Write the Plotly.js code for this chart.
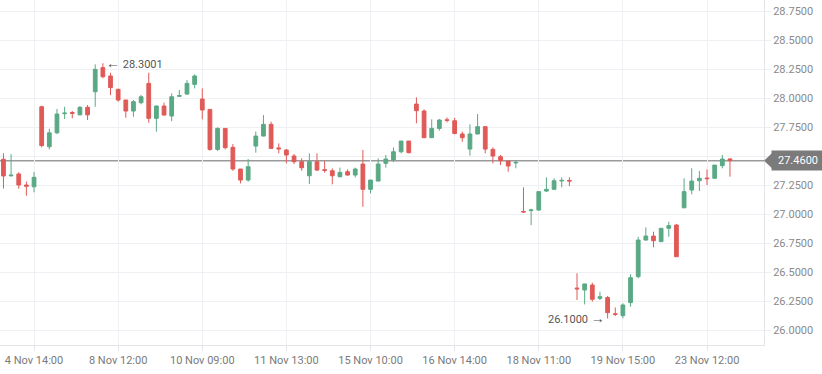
<!DOCTYPE html>
<html><head><meta charset="utf-8">
<script src="https://cdn.plot.ly/plotly-3.0.1.min.js"></script>
<style>html,body{margin:0;padding:0;background:#fff}#chart{width:822px;height:374px}</style>
</head><body><div id="chart"></div>
<script>
// OHLC series (one candle per slot)
const openV  = [27.472,27.330,27.345,27.250,27.235,27.925,27.580,27.700,27.865,27.875,27.855,27.920,28.054,28.262,28.190,28.075,27.983,27.888,27.960,28.126,27.825,27.931,27.845,28.015,28.034,28.118,27.991,27.902,27.557,27.738,27.575,27.388,27.293,27.586,27.672,27.773,27.570,27.552,27.500,27.451,27.330,27.451,27.382,27.373,27.322,27.365,27.336,27.431,27.213,27.284,27.437,27.466,27.537,27.629,27.948,27.888,27.658,27.738,27.812,27.804,27.690,27.560,27.690,27.753,27.557,27.494,27.457,27.440,27.022,27.030,27.034,27.198,27.213,27.285,27.290,26.362,26.345,26.388,26.273,26.280,26.140,26.124,26.236,26.460,26.776,26.810,26.762,26.877,26.905,27.054,27.207,27.287,27.310,27.308,27.417,27.475];
const highV  = [27.523,27.517,27.360,27.280,27.362,27.934,27.735,27.905,27.925,27.888,27.930,27.940,28.290,28.3001,28.218,28.080,27.983,27.983,28.026,28.218,27.935,27.960,28.040,28.070,28.155,28.204,28.083,27.902,27.747,27.738,27.603,27.388,27.474,27.710,27.853,27.796,27.609,27.560,27.517,27.480,27.523,27.523,27.457,27.394,27.400,27.385,27.400,27.552,27.293,27.480,27.509,27.575,27.629,27.629,28.006,27.902,27.816,27.820,27.833,27.830,27.710,27.773,27.862,27.753,27.575,27.509,27.457,27.466,27.230,27.045,27.193,27.316,27.308,27.316,27.316,26.489,26.400,26.408,26.330,26.293,26.195,26.230,26.480,26.804,26.885,26.848,26.877,26.934,26.915,27.308,27.394,27.371,27.385,27.422,27.509,27.480];
const lowV   = [27.220,27.322,27.218,27.158,27.187,27.575,27.557,27.690,27.819,27.825,27.850,27.810,27.925,28.170,28.025,27.968,27.830,27.839,27.946,27.787,27.710,27.850,27.800,28.012,28.030,28.083,27.816,27.545,27.543,27.557,27.373,27.264,27.279,27.529,27.670,27.563,27.523,27.437,27.431,27.373,27.259,27.370,27.356,27.256,27.315,27.330,27.316,27.063,27.178,27.284,27.400,27.448,27.523,27.523,27.782,27.655,27.655,27.718,27.790,27.687,27.623,27.503,27.688,27.523,27.437,27.422,27.365,27.394,27.010,26.905,27.030,27.190,27.210,27.230,27.241,26.259,26.221,26.244,26.259,26.100,26.120,26.101,26.201,26.446,26.770,26.713,26.760,26.804,26.630,27.050,27.170,27.198,27.250,27.305,27.394,27.322];
const closeV = [27.328,27.335,27.250,27.240,27.316,27.590,27.700,27.862,27.870,27.868,27.920,27.855,28.247,28.184,28.090,27.983,27.888,27.968,28.011,27.825,27.931,27.853,28.011,28.020,28.126,28.190,27.897,27.557,27.738,27.572,27.388,27.293,27.408,27.672,27.773,27.566,27.562,27.509,27.451,27.399,27.451,27.379,27.376,27.330,27.359,27.336,27.388,27.213,27.293,27.431,27.474,27.537,27.629,27.529,27.891,27.658,27.738,27.810,27.808,27.695,27.658,27.690,27.753,27.560,27.500,27.459,27.414,27.445,27.018,27.035,27.193,27.213,27.287,27.290,27.285,26.355,26.397,26.265,26.287,26.150,26.135,26.216,26.451,26.776,26.810,26.770,26.877,26.900,26.632,27.193,27.284,27.308,27.305,27.422,27.474,27.460];
const slotIdx = openV.map((_, i) => i);
// x tick labels and the slots they sit on
const tickSlots  = [4, 15, 26, 37, 48, 59, 70, 81, 92];
const tickLabels = ['4 Nov 14:00','8 Nov 12:00','10 Nov 09:00','11 Nov 13:00','15 Nov 10:00','16 Nov 14:00','18 Nov 11:00','19 Nov 15:00','23 Nov 12:00'];
const yTicks = [26.00,26.25,26.50,26.75,27.00,27.25,27.50,27.75,28.00,28.25,28.50,28.75];
const lastPrice = 27.46;
const maxHigh = 28.3001, minLow = 26.10;
const maxIdx = highV.indexOf(maxHigh), minIdx = lowV.indexOf(minLow);

const green = '#5aa985', red = '#e05a57';
const trace = {
  type: 'candlestick', x: slotIdx, open: openV, high: highV, low: lowV, close: closeV,
  increasing: {line: {color: green, width: 1}, fillcolor: green},
  decreasing: {line: {color: red, width: 1}, fillcolor: red},
  whiskerwidth: 0, hoverinfo: 'skip', showlegend: false
};
const fontF = 'Roboto, "Open Sans", sans-serif';
// the label of the tick hidden under the last-price box is left blank
const yTickText = yTicks.map(v => Math.abs(v - lastPrice) < 0.1 ? '' : v.toFixed(4));
const arrowL = '<span style="font-size:14px">\u2190</span> ';
const arrowR = ' <span style="font-size:14px">\u2192</span>';
const layout = {
  width: 822, height: 374,
  margin: {l: 0, r: 58, t: 0, b: 29},
  paper_bgcolor: '#fff', plot_bgcolor: '#fff',
  showlegend: false,
  xaxis: {
    range: [-0.45, 99.45], rangeslider: {visible: false},
    tickmode: 'array', tickvals: tickSlots, ticktext: tickLabels,
    showgrid: true, gridcolor: '#eef0f3', gridwidth: 1,
    showline: true, linecolor: '#e3e5e8', linewidth: 1,
    ticks: 'outside', ticklen: 5, tickcolor: '#e3e5e8',
    tickfont: {family: fontF, size: 11, color: '#7a7a7a'},
    zeroline: false, fixedrange: true
  },
  yaxis: {
    side: 'right', range: [25.871, 28.845],
    tickmode: 'array', tickvals: yTicks, ticktext: yTickText,
    showgrid: true, gridcolor: '#eef0f3', gridwidth: 1,
    showline: true, linecolor: '#e3e5e8', linewidth: 1,
    ticks: 'outside', ticklen: 6, tickcolor: '#eef0f3',
    tickfont: {family: fontF, size: 11, color: '#8a8a8a'},
    zeroline: false, fixedrange: true
  },
  shapes: [
    {type: 'line', xref: 'paper', x0: 0, x1: 1, yref: 'y', y0: lastPrice, y1: lastPrice,
     line: {color: '#9a9a9a', width: 1.5}, layer: 'below'},
    {type: 'path', xref: 'paper', yref: 'y', fillcolor: '#7b7b7b', line: {width: 0},
     path: 'M 1.0 ' + lastPrice + ' L 1.012 ' + (lastPrice + 0.075) + ' L 1.012 ' + (lastPrice - 0.075) + ' Z'}
  ],
  annotations: [
    {xref: 'paper', yref: 'y', x: 1.009, y: lastPrice, xanchor: 'left', yanchor: 'middle',
     text: lastPrice.toFixed(4), showarrow: false, bgcolor: '#7b7b7b', borderpad: 3,
     font: {family: fontF, size: 11, color: '#ffffff'}, width: 46, align: 'center'},
    {xref: 'x', yref: 'y', x: maxIdx, y: maxHigh, xanchor: 'left', yanchor: 'middle', xshift: 1,
     text: arrowL + maxHigh.toFixed(4), showarrow: false,
     font: {family: fontF, size: 11, color: '#555'}},
    {xref: 'x', yref: 'y', x: minIdx, y: minLow, xanchor: 'right', yanchor: 'middle', xshift: -1,
     text: minLow.toFixed(4) + arrowR, showarrow: false,
     font: {family: fontF, size: 11, color: '#555'}}
  ]
};
Plotly.newPlot('chart', [trace], layout, {displayModeBar: false, staticPlot: true});
</script></body></html>
